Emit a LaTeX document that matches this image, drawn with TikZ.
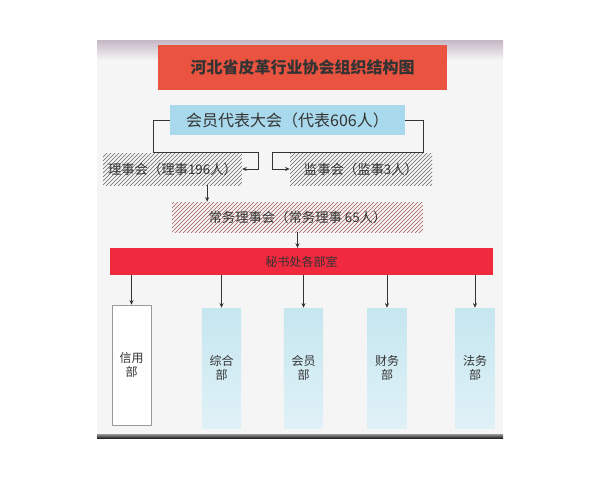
\documentclass[tikz,border=0pt]{standalone}
\usepackage{fontspec}
\newfontfamily\cjk{Noto Sans CJK SC}
\usetikzlibrary{arrows.meta,patterns}

\definecolor{titlered}{HTML}{E9533F}
\definecolor{huiblue}{HTML}{A9D9EC}
\definecolor{barred}{HTML}{F0293F}
\definecolor{deptblue}{HTML}{C6E6F0}
\definecolor{inkgray}{HTML}{333333}

\tikzset{
  box/.style={inner sep=0pt, font=\cjk, text=inkgray},
  hatchbox/.style={box, pattern=north east lines, pattern color=gray!80!black},
  dept/.style={box, minimum width=29.5pt, minimum height=90pt, align=center, font=\cjk\small},
  arr/.style={-{Stealth[length=3.5pt,width=3pt]}, line width=0.6pt, draw=inkgray}
}

\begin{document}
\begin{tikzpicture}[x=0.75pt,y=0.75pt,yscale=-1,xscale=1]
\useasboundingbox (0,0) rectangle (600,480);

%Shape: photo background
\fill[white] (0,0) rectangle (600,480);
\fill[black!4] (97,40) rectangle (503,438);
\shade[top color=violet!25!gray!45, bottom color=black!4] (97,40) rectangle (503,60);
\shade[top color=black!40, bottom color=black!85] (97,434) rectangle (503,438);

% Text Node
\node[box, fill=titlered, minimum width=217pt, minimum height=34pt, font=\cjk\bfseries\large] (title) at (302.5,67.5) {河北省皮革行业协会组织结构图};
% Text Node
\node[box, fill=huiblue, minimum width=176pt, minimum height=22.5pt, font=\cjk\large] (hui) at (287.5,120) {会员代表大会（代表606人）};
% Text Node
\node[hatchbox, minimum width=104pt, minimum height=24pt] (lishi) at (172.5,169) {理事会（理事196人）};
% Text Node
\node[hatchbox, minimum width=106.5pt, minimum height=24pt] (jianshi) at (361,169) {监事会（监事3人）};
% Text Node
\node[hatchbox, pattern color=red!30!gray, minimum width=188pt, minimum height=22.5pt] (changwu) at (297.5,217) {常务理事会（常务理事 65人）};
% Text Node
\node[box, fill=barred, minimum width=287pt, minimum height=20pt, font=\cjk\small] (mish) at (301.5,261.5) {秘书处各部室};

% Departments
\node[dept, fill=white, draw=black!40, minimum height=90pt] (xinyong) at (131.5,365) {信用\\部};
\node[dept, top color=deptblue, bottom color=deptblue!55] (zonghe) at (221.5,368) {综合\\部};
\node[dept, top color=deptblue, bottom color=deptblue!55] (huiyuan) at (303.5,368) {会员\\部};
\node[dept, top color=deptblue, bottom color=deptblue!55] (caiwu) at (387,368) {财务\\部};
\node[dept, top color=deptblue, bottom color=deptblue!55] (fawu) at (475,368) {法务\\部};

%Straight Lines: connectors
\draw[arr] (hui.west) -- ++(-17,0) -- ++(0,32) -| ([xshift=12pt]lishi.east) -- (lishi.east);
\draw[arr] (hui.east) -- ++(18,0) -- ++(0,32) -| ([xshift=-13pt]jianshi.west) -- (jianshi.west);
\draw[arr] ([xshift=26pt]lishi.south) -- ([xshift=26pt]lishi.south |- changwu.north);
\draw[arr] (changwu.south) -- (changwu.south |- mish.north);
\foreach \d in {xinyong,zonghe,huiyuan,caiwu,fawu}
  \draw[arr] (mish.south -| \d.north) -- (\d.north);

\end{tikzpicture}
\end{document}
